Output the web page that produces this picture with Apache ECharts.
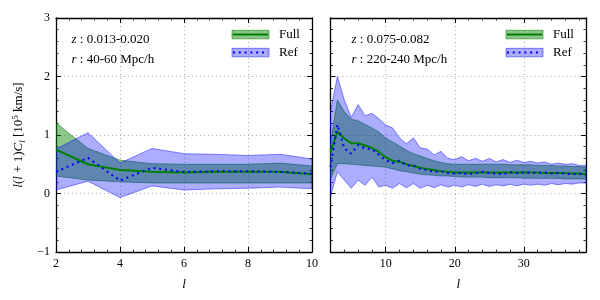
<!DOCTYPE html>
<html>
<head>
<meta charset="utf-8">
<script src="https://cdn.jsdelivr.net/npm/echarts@6/dist/echarts.min.js"></script>
<style>html,body{margin:0;padding:0;background:#fff}#c{width:600px;height:300px}</style>
</head>
<body>
<div id="c"></div>
<script>
// ---------- data ----------
const lLeft = [2, 3, 4, 5, 6, 7, 8, 9, 10];
const fullLeft   = [0.75, 0.50, 0.40, 0.37, 0.36, 0.37, 0.37, 0.37, 0.33];
const fullUpLeft = [1.21, 0.77, 0.57, 0.51, 0.50, 0.50, 0.50, 0.52, 0.47];
const fullLoLeft = [0.30, 0.23, 0.20, 0.18, 0.18, 0.18, 0.18, 0.18, 0.18];
const refLeft    = [0.37, 0.61, 0.22, 0.44, 0.37, 0.38, 0.38, 0.37, 0.34];
const refUpLeft  = [0.76, 1.04, 0.52, 0.77, 0.68, 0.67, 0.65, 0.67, 0.59];
const refLoLeft  = [0.06, 0.21, -0.07, 0.13, 0.06, 0.08, 0.09, 0.11, 0.08];

const lRight = [2,3,4,5,6,7,8,9,10,11,12,13,14,15,16,17,18,19,20,21,22,23,24,25,26,27,28,29,30,31,32,33,34,35,36,37,38,39];
const fullRight   = [0.70,1.06,0.94,0.86,0.86,0.82,0.78,0.71,0.62,0.56,0.54,0.50,0.47,0.44,0.42,0.40,0.38,0.37,0.36,0.36,0.36,0.36,0.36,0.36,0.36,0.36,0.36,0.36,0.36,0.36,0.36,0.35,0.35,0.35,0.35,0.34,0.34,0.33];
const fullUpRight = [0.85,1.60,1.40,1.27,1.24,1.18,1.12,1.05,0.95,0.88,0.81,0.74,0.68,0.64,0.60,0.56,0.53,0.51,0.50,0.50,0.50,0.50,0.50,0.50,0.50,0.50,0.49,0.49,0.49,0.49,0.48,0.48,0.48,0.47,0.47,0.46,0.46,0.45];
const fullLoRight = [0.25,0.51,0.51,0.50,0.49,0.48,0.47,0.46,0.45,0.42,0.39,0.37,0.35,0.33,0.32,0.31,0.30,0.30,0.29,0.28,0.28,0.28,0.28,0.27,0.27,0.27,0.27,0.27,0.26,0.26,0.26,0.26,0.26,0.26,0.25,0.25,0.25,0.25];
const refRight    = [0.45,1.18,0.77,0.68,0.83,0.77,0.76,0.66,0.57,0.52,0.56,0.48,0.48,0.42,0.40,0.37,0.38,0.35,0.34,0.35,0.33,0.35,0.37,0.35,0.34,0.33,0.36,0.35,0.36,0.36,0.35,0.36,0.34,0.35,0.34,0.33,0.34,0.32];
const refUpRight  = [1.40,2.00,1.60,1.30,1.52,1.33,1.37,1.28,1.17,1.12,0.95,0.85,0.95,0.78,0.76,0.66,0.72,0.60,0.58,0.63,0.56,0.60,0.55,0.60,0.54,0.58,0.53,0.57,0.53,0.55,0.52,0.54,0.50,0.52,0.50,0.51,0.48,0.48];
const refLoRight  = [-0.05,0.37,0.23,0.09,0.23,0.14,0.28,0.11,0.14,0.09,0.17,0.10,0.17,0.09,0.14,0.10,0.15,0.11,0.14,0.11,0.15,0.12,0.16,0.12,0.15,0.13,0.16,0.13,0.16,0.14,0.16,0.14,0.17,0.15,0.17,0.16,0.18,0.18];

const yTicks = [-1, 0, 1, 2, 3];
const xTicksLeft = [2, 4, 6, 8, 10];
const xTicksRight = [10, 20, 30];
const xMinorRight = [4, 6, 8, 12, 14, 16, 18, 22, 24, 26, 28, 32, 34, 36, 38];

// ---------- styles ----------
const FONT = 'Liberation Serif';
const GREEN = '#008000', BLUE = '#0000ff';
const GREEN_FILL = 'rgba(0,128,0,0.45)', GREEN_EDGE = 'rgba(0,128,0,0.55)';
const BLUE_FILL = 'rgba(0,0,255,0.32)', BLUE_EDGE = 'rgba(0,0,255,0.45)';

const pairs = (xs, ys) => xs.map((x, i) => [x, ys[i]]);

const frameLine = {show: true, onZero: false, lineStyle: {color: '#000', width: 1.3}};
const hiddenLine = {show: false, onZero: false};
const gridSplit = {show: true, lineStyle: {color: '#9a9a9a', width: 0.8, type: [1, 3]}};
const labelStyle = {fontFamily: FONT, fontSize: 12, color: '#000'};

// band drawn as one polygon through the series' own coordinate system
function bandSeries(xi, yi, xs, up, lo, fill, edge, z) {
  const data = xs.map((x, i) => [x, lo[i], up[i]]);
  return {
    type: 'custom', xAxisIndex: xi, yAxisIndex: yi, z: z, silent: true, clip: true,
    encode: {x: 0, y: [1, 2]},
    data: data,
    renderItem: function (params, api) {
      if (params.dataIndex !== 0) return null;
      const pts = [];
      for (let i = 0; i < data.length; i++) pts.push(api.coord([data[i][0], data[i][2]]));
      for (let i = data.length - 1; i >= 0; i--) pts.push(api.coord([data[i][0], data[i][1]]));
      return {type: 'polygon', shape: {points: pts},
        style: {fill: fill, stroke: edge, lineWidth: 1, lineJoin: 'round'}};
    }
  };
}
function meanSeries(xi, yi, xs, ys, color, dotted, z) {
  return {type: 'line', xAxisIndex: xi, yAxisIndex: yi, data: pairs(xs, ys), showSymbol: false, symbol: 'none', z: z,
    silent: true,
    lineStyle: {color: color, width: 2, type: dotted ? [2, 3.8] : 'solid', cap: 'butt'}};
}

const yLbl = v => (v < 0 ? '\u2212' + Math.abs(v) : String(v));

const grids = [
  {left: 56, top: 18, width: 256, height: 234},
  {left: 330.5, top: 18, width: 255.5, height: 234}
];

const xName = {name: 'l', nameLocation: 'middle', nameGap: 26,
   nameTextStyle: {fontFamily: FONT, fontSize: 13, fontStyle: 'italic', color: '#000'}};
const xAxes = [
  Object.assign({gridIndex: 0, type: 'value', position: 'bottom', min: xTicksLeft[0], max: xTicksLeft[xTicksLeft.length - 1], interval: 2,
   axisLine: frameLine, axisTick: {inside: true, length: 5, lineStyle: {color: '#000', width: 1}},
   minorTick: {show: true, splitNumber: 5, length: 2.5, lineStyle: {color: '#000', width: 0.8}},
   axisLabel: Object.assign({margin: 6}, labelStyle), splitLine: gridSplit}, xName),
  {gridIndex: 0, type: 'value', position: 'top', min: xTicksLeft[0], max: xTicksLeft[xTicksLeft.length - 1], interval: 2,
   axisLine: frameLine, axisTick: {inside: true, length: 5, lineStyle: {color: '#000', width: 1}},
   minorTick: {show: true, splitNumber: 5, length: 2.5, lineStyle: {color: '#000', width: 0.8}},
   axisLabel: {show: false}, splitLine: {show: false}},
  Object.assign({gridIndex: 1, type: 'value', position: 'bottom', min: 2, max: 39,
   axisLine: frameLine, axisTick: {inside: true, length: 5, customValues: xTicksRight, lineStyle: {color: '#000', width: 1}},
   axisLabel: Object.assign({margin: 6, customValues: xTicksRight}, labelStyle), splitLine: gridSplit}, xName),
  {gridIndex: 1, type: 'value', position: 'bottom', min: 2, max: 39,
   axisLine: hiddenLine, axisTick: {inside: true, length: 2.5, customValues: xMinorRight, lineStyle: {color: '#000', width: 0.8}},
   axisLabel: {show: false}, splitLine: {show: false}},
  {gridIndex: 1, type: 'value', position: 'top', min: 2, max: 39,
   axisLine: frameLine, axisTick: {inside: true, length: 5, customValues: xTicksRight, lineStyle: {color: '#000', width: 1}},
   axisLabel: {show: false}, splitLine: {show: false}},
  {gridIndex: 1, type: 'value', position: 'top', min: 2, max: 39,
   axisLine: hiddenLine, axisTick: {inside: true, length: 2.5, customValues: xMinorRight, lineStyle: {color: '#000', width: 0.8}},
   axisLabel: {show: false}, splitLine: {show: false}}
];

function yAx(grid, pos, labels, split, extra) {
  return Object.assign({gridIndex: grid, type: 'value', position: pos, min: yTicks[0], max: yTicks[yTicks.length - 1], interval: 1,
    axisLine: frameLine, axisTick: {inside: true, length: 5, lineStyle: {color: '#000', width: 1}},
    minorTick: {show: true, splitNumber: 5, length: 2.5, lineStyle: {color: '#000', width: 0.8}},
    axisLabel: labels ? Object.assign({margin: 6, formatter: yLbl}, labelStyle) : {show: false},
    splitLine: split ? gridSplit : {show: false}}, extra || {});
}
const yAxes = [
  yAx(0, 'left', true, true, {
    name: '{i|l}({i|l} + 1){i|C}{sub|l} [10{sup|5} km/s]', nameLocation: 'middle', nameGap: 28, nameRotate: 90,
    nameTextStyle: {fontFamily: FONT, fontSize: 13, color: '#000', lineHeight: 18,
      rich: {
        i: {fontFamily: FONT, fontSize: 13, fontStyle: 'italic', color: '#000', lineHeight: 18},
        sub: {fontFamily: FONT, fontSize: 9, fontStyle: 'italic', color: '#000', lineHeight: 18, verticalAlign: 'bottom', padding: [0, 0, 1, 0]},
        sup: {fontFamily: FONT, fontSize: 9, color: '#000', lineHeight: 18, verticalAlign: 'top', padding: [1, 0, 0, 0]}
      }}
  }),
  yAx(0, 'right', false, false),
  yAx(1, 'left', false, true),
  yAx(1, 'right', false, false)
];

const series = [
  bandSeries(0, 0, lLeft, fullUpLeft, fullLoLeft, GREEN_FILL, GREEN_EDGE, 2),
  bandSeries(0, 0, lLeft, refUpLeft, refLoLeft, BLUE_FILL, BLUE_EDGE, 3),
  meanSeries(0, 0, lLeft, fullLeft, GREEN, false, 5),
  meanSeries(0, 0, lLeft, refLeft, BLUE, true, 6),
  bandSeries(2, 2, lRight, fullUpRight, fullLoRight, GREEN_FILL, GREEN_EDGE, 2),
  bandSeries(2, 2, lRight, refUpRight, refLoRight, BLUE_FILL, BLUE_EDGE, 3),
  meanSeries(2, 2, lRight, fullRight, GREEN, false, 5),
  meanSeries(2, 2, lRight, refRight, BLUE, true, 6)
];

// ---------- annotations / legends ----------
const richTxt = {i: {fontFamily: FONT, fontSize: 13, fontStyle: 'italic', fill: '#000'}};
function annot(x, y, text) {
  return {type: 'text', x: x, y: y, z: 20, style: {text: text, fontFamily: FONT, fontSize: 13, fill: '#000', verticalAlign: 'middle', rich: richTxt}};
}
function legendBox(x, y, label, fill, edge, lineColor, dotted) {
  return [
    {type: 'rect', z: 20, shape: {x: x, y: y, width: 37, height: 8.5}, style: {fill: fill, stroke: edge, lineWidth: 1}},
    {type: 'line', z: 21, shape: {x1: x + 1, y1: y + 4.25, x2: x + 36, y2: y + 4.25},
     style: {stroke: lineColor, lineWidth: 2, lineDash: dotted ? [2, 3.8] : null}},
    {type: 'text', z: 20, x: x + 47, y: y + 4.25, style: {text: label, fontFamily: FONT, fontSize: 13, fill: '#000', verticalAlign: 'middle'}}
  ];
}
const graphics = [].concat(
  [annot(71.5, 39.5, '{i|z} : 0.013-0.020'), annot(71.5, 59.5, '{i|r} : 40-60 Mpc/h')],
  legendBox(232, 30.3, 'Full', GREEN_FILL, GREEN_EDGE, GREEN, false),
  legendBox(232, 48.3, 'Ref', BLUE_FILL, BLUE_EDGE, BLUE, true),
  [annot(351.5, 39.5, '{i|z} : 0.075-0.082'), annot(351.5, 59.5, '{i|r} : 220-240 Mpc/h')],
  legendBox(506, 30.3, 'Full', GREEN_FILL, GREEN_EDGE, GREEN, false),
  legendBox(506, 48.3, 'Ref', BLUE_FILL, BLUE_EDGE, BLUE, true)
);

const chart = echarts.init(document.getElementById('c'), null, {renderer: 'canvas'});
chart.setOption({
  animation: false,
  backgroundColor: '#fff',
  grid: grids,
  xAxis: xAxes,
  yAxis: yAxes,
  series: series,
  graphic: graphics
});
</script>
</body>
</html>
